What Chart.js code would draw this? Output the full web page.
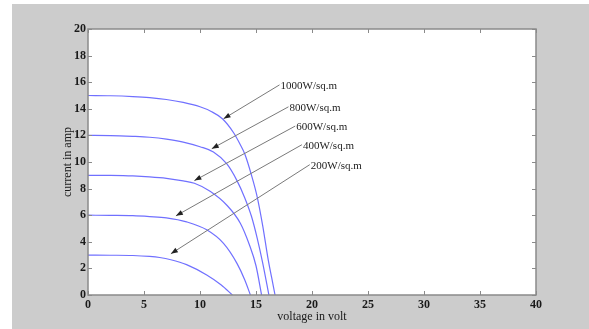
<!DOCTYPE html>
<html>
<head>
<meta charset="utf-8">
<script src="https://cdn.jsdelivr.net/npm/chart.js@4"></script>
<style>
  html, body { margin: 0; padding: 0; background: #fff; }
  #wrap { position: relative; width: 589px; height: 329px; }
  #bg { position: absolute; left: 12px; top: 4px; right: 0; bottom: 0; background: #cccccc; }
  canvas { position: absolute; left: 0; top: 0; }
</style>
</head>
<body>
<div id="wrap">
  <div id="bg"></div>
  <canvas id="ivChart" width="589" height="329"></canvas>
</div>
<script>

// I-V curves (voltage in volt, current in amp)
const v1000 = [0, 2, 4, 5.5, 7, 8.5, 10, 11, 12, 13, 13.6, 14, 14.6, 15.1, 15.6, 16.1, 16.4, 16.7];
const i1000 = [15, 14.98, 14.92, 14.84, 14.7, 14.48, 14.15, 13.8, 13.25, 12.2, 11.3, 10.6, 9.0, 7.4, 5.2, 2.6, 1.3, 0];

const v800 = [0, 2, 4, 5.5, 7, 8.5, 10, 11.2, 12.4, 13.3, 14, 14.6, 15.1, 15.6, 16.15];
const i800 = [12, 11.99, 11.93, 11.86, 11.72, 11.5, 11.15, 10.75, 9.85, 8.6, 7.3, 5.9, 4.3, 2.4, 0];

const v600 = [0, 2, 4, 5.5, 7, 8.5, 9.5, 10.9, 12.4, 13.6, 14.4, 15, 15.5];
const i600 = [9, 8.99, 8.95, 8.88, 8.77, 8.58, 8.4, 7.8, 6.75, 5.4, 3.8, 2.2, 0];

const v400 = [0, 2, 4, 5.5, 7, 8.8, 10.6, 12.1, 13.3, 14, 14.5];
const i400 = [6, 5.99, 5.97, 5.9, 5.8, 5.5, 4.9, 3.88, 2.38, 1.13, 0];

const v200 = [0, 2, 4, 5.5, 6.4, 7.4, 8.8, 10.6, 11.9, 12.9];
const i200 = [3, 2.99, 2.97, 2.9, 2.82, 2.65, 2.28, 1.5, 0.75, 0];

const xTicks = [0, 5, 10, 15, 20, 25, 30, 35, 40];
const yTicks = [0, 2, 4, 6, 8, 10, 12, 14, 16, 18, 20];

// arrow annotations: label, tail (where text sits) and head, in data units
const arrowLabels = ['1000W/sq.m', '800W/sq.m', '600W/sq.m', '400W/sq.m', '200W/sq.m'];
const arrowFromV = [17.1, 17.9, 18.5, 19.1, 19.8];
const arrowFromI = [15.8, 14.15, 12.7, 11.3, 9.8];
const arrowToV = [12.1, 11.05, 9.5, 7.85, 7.4];
const arrowToI = [13.25, 11.0, 8.6, 5.95, 3.1];

function pts(v, i) { return v.map((x, k) => ({ x: x, y: i[k] })); }

const curveColor = 'rgb(112,112,255)';
const serif = '"Liberation Serif", "Times New Roman", serif';

const frame = {
  id: 'frame',
  afterDraw(chart) {
    const c = chart.ctx, a = chart.chartArea;
    const xs = chart.scales.x, ys = chart.scales.y;
    c.save();
    // arrows
    c.strokeStyle = '#7a7a7a';
    c.lineWidth = 1;
    c.font = '11px ' + serif;
    c.fillStyle = '#222';
    c.textBaseline = 'middle';
    arrowLabels.forEach((lab, k) => {
      const x0 = xs.getPixelForValue(arrowFromV[k]), y0 = ys.getPixelForValue(arrowFromI[k]);
      const x1 = xs.getPixelForValue(arrowToV[k]), y1 = ys.getPixelForValue(arrowToI[k]);
      c.beginPath(); c.moveTo(x0, y0); c.lineTo(x1, y1); c.stroke();
      const ang = Math.atan2(y1 - y0, x1 - x0);
      const L = 7, W = 2.6;
      c.beginPath();
      c.moveTo(x1, y1);
      c.lineTo(x1 - L * Math.cos(ang) + W * Math.sin(ang), y1 - L * Math.sin(ang) - W * Math.cos(ang));
      c.lineTo(x1 - L * Math.cos(ang) - W * Math.sin(ang), y1 - L * Math.sin(ang) + W * Math.cos(ang));
      c.closePath();
      c.fill();
      c.fillText(lab, x0 + 1, y0 + 1);
    });
    // box with inward ticks
    c.strokeStyle = '#8a8a8a';
    c.lineWidth = 1.5;
    c.strokeRect(a.left, a.top, a.right - a.left, a.bottom - a.top);
    c.lineWidth = 1;
    c.beginPath();
    xTicks.forEach(t => {
      const x = Math.round(xs.getPixelForValue(t)) + 0.5;
      c.moveTo(x, a.bottom); c.lineTo(x, a.bottom - 4);
      c.moveTo(x, a.top); c.lineTo(x, a.top + 4);
    });
    yTicks.forEach(t => {
      const y = Math.round(ys.getPixelForValue(t)) + 0.5;
      c.moveTo(a.left, y); c.lineTo(a.left + 4, y);
      c.moveTo(a.right, y); c.lineTo(a.right - 4, y);
    });
    c.stroke();
    c.restore();
  }
};

const whiteArea = {
  id: 'whiteArea',
  beforeDatasetsDraw(chart) {
    const c = chart.ctx, a = chart.chartArea;
    c.save();
    c.fillStyle = '#fff';
    c.fillRect(a.left, a.top, a.right - a.left, a.bottom - a.top);
    c.restore();
  }
};

function curve(label, v, i) {
  return {
    label: label,
    data: pts(v, i),
    borderColor: curveColor,
    borderWidth: 1.2,
    pointRadius: 0,
    fill: false,
    cubicInterpolationMode: 'monotone'
  };
}

new Chart(document.getElementById('ivChart').getContext('2d'), {
  type: 'line',
  data: {
    datasets: [
      curve('1000W/sq.m', v1000, i1000),
      curve('800W/sq.m', v800, i800),
      curve('600W/sq.m', v600, i600),
      curve('400W/sq.m', v400, i400),
      curve('200W/sq.m', v200, i200)
    ]
  },
  options: {
    responsive: false,
    animation: false,
    layout: { padding: { top: 29, right: 53, left: 12, bottom: 0 } },
    plugins: { legend: { display: false }, tooltip: { enabled: false } },
    scales: {
      x: {
        type: 'linear',
        min: 0, max: 40,
        afterBuildTicks: s => { s.ticks = xTicks.map(v => ({ value: v })); },
        afterFit: s => { s.height = 34; },
        grid: { display: false, drawTicks: false },
        border: { display: false },
        ticks: { color: '#1a1a1a', padding: 3, font: { family: serif, size: 12, weight: 'bold' } },
        title: { display: true, text: 'voltage in volt', color: '#1a1a1a', padding: { top: 0, bottom: 5 },
                 font: { family: serif, size: 12 } }
      },
      y: {
        min: 0, max: 20,
        afterBuildTicks: s => { s.ticks = yTicks.map(v => ({ value: v })); },
        afterFit: s => { s.width = 76; },
        grid: { display: false, drawTicks: false },
        border: { display: false },
        ticks: { color: '#1a1a1a', padding: 2, font: { family: serif, size: 12, weight: 'bold' } },
        title: { display: true, text: 'current in amp', color: '#1a1a1a', padding: { top: 49, bottom: 0 },
                 font: { family: serif, size: 12 } }
      }
    }
  },
  plugins: [whiteArea, frame]
});

</script>
</body>
</html>
